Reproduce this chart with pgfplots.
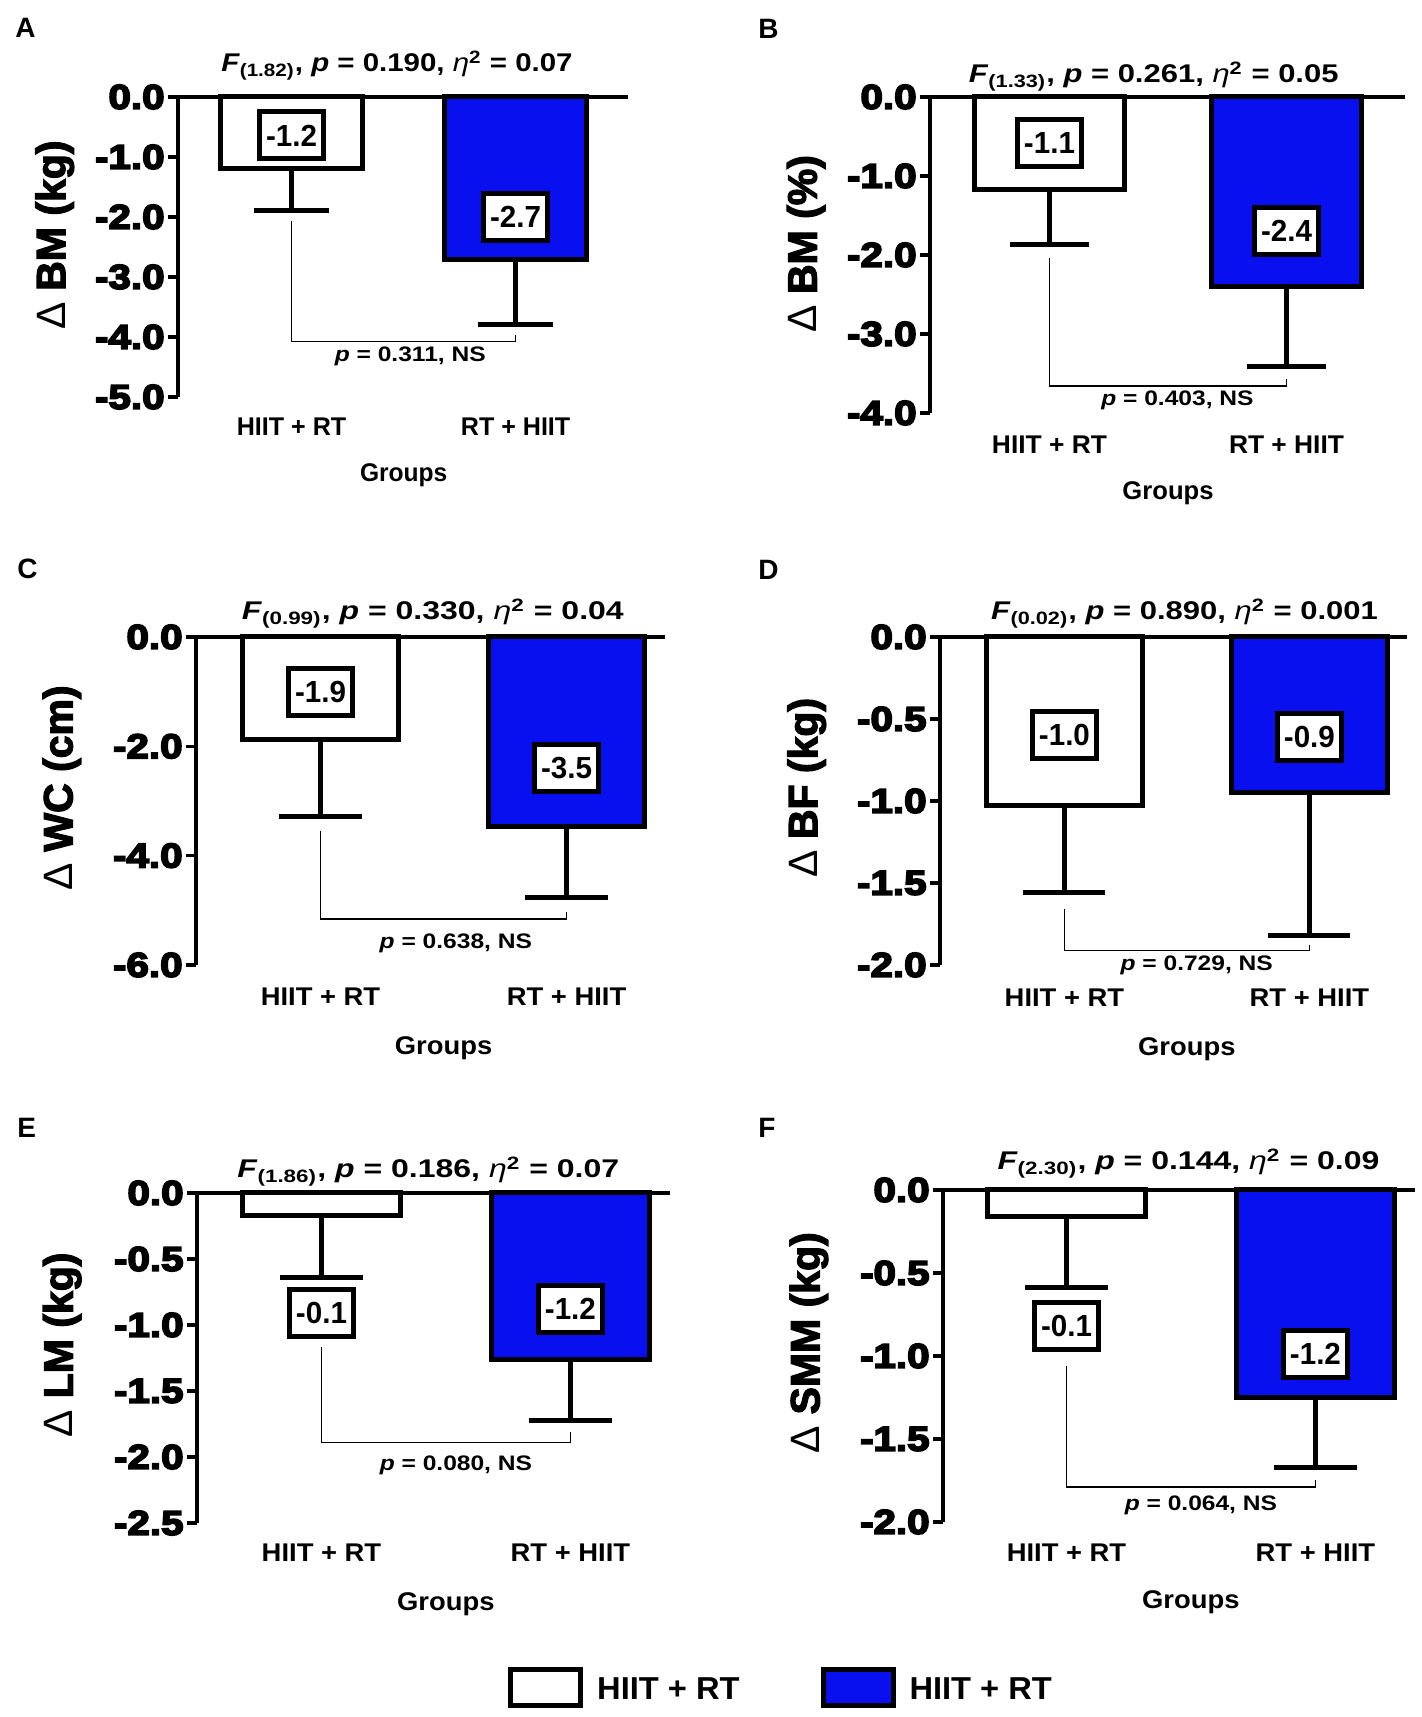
\documentclass[border=0pt]{standalone}
\usepackage{fontspec}
\setmainfont{Liberation Sans}
\newfontfamily\tickfont{Liberation Sans}[FakeStretch=1.17, BoldFeatures={FakeBold=5}]
\newfontfamily\ylabfont{Liberation Sans}[BoldFeatures={FakeBold=3}]
\usepackage{graphicx}
\usepackage{pgfplots}
\pgfplotsset{compat=1.18}
\definecolor{barblue}{RGB}{8,16,240}
\newcommand\hs[2]{\scalebox{#1}[1]{#2}}
\newcommand\fTick{\tickfont\bfseries\fontsize{17.25}{17.25}\selectfont}
\newcommand\fYlab{\ylabfont\bfseries\fontsize{20.5}{20.5}\selectfont}
\newcommand\fTitle{\bfseries\fontsize{12.8}{12.8}\selectfont}
\newcommand\fP{\bfseries\fontsize{10.5}{10.5}\selectfont}
\newcommand\fVal{\bfseries\fontsize{15.25}{15.25}\selectfont}
\newcommand\fX{\bfseries\fontsize{12.8}{12.8}\selectfont}
\newcommand\fLeg{\bfseries\fontsize{15.85}{15.85}\selectfont}
\newcommand\fPanel{\bfseries\fontsize{14}{14}\selectfont}
\newcommand\etaI{{\mdseries\itshape η}}
\newcommand\Dl{{\fontspec{Liberation Sans}\mdseries Δ}}
\tikzset{
  valbox/.style={draw=black, line width=2.5pt, fill=white, minimum width=32pt, minimum height=23.5pt, inner sep=0pt, font=\fVal},
  brk/.style={line width=0.65pt, black},
  ptxt/.style={font=\fP, anchor=center},
}
\pgfplotsset{
  panel/.style={
    scale only axis, clip=false,
    axis y line=left, axis x line=bottom,
    x axis line style={draw=none},
    y axis line style={line width=2pt,-},
    xtick={0,1}, major x tick style={draw=none},
    major y tick style={line width=1.75pt,black},
    tick align=outside, major tick length=5pt,
    yticklabel style={font=\fTick, inner sep=1.5pt},
    xticklabel style={font=\fX, anchor=center},
    ymax=0, enlargelimits=false,
    ylabel style={font=\fYlab, anchor=center},
    xlabel style={font=\fX, anchor=center},
    title style={font=\fTitle, anchor=base},
  },
  wbar/.style={ybar, bar width=0.634, bar shift=0pt, draw=black, fill=white, line width=2.5pt,
    error bars/y dir=minus, error bars/y explicit,
    error bars/error bar style={line width=2.5pt, draw=black},
    error bars/error mark options={rotate=90, mark size=#1, line width=2.5pt, draw=black}},
  bbar/.style={ybar, bar width=0.634, bar shift=0pt, draw=black, fill=barblue, line width=2.5pt,
    error bars/y dir=minus, error bars/y explicit,
    error bars/error bar style={line width=2.5pt, draw=black},
    error bars/error mark options={rotate=90, mark size=#1, line width=2.5pt, draw=black}},
}
\begin{document}
\begin{tikzpicture}
\useasboundingbox (0,0) rectangle (710.5pt,858.5pt);
% panel letters
\node[anchor=base west, inner sep=0pt, font=\fPanel] at (7.5pt,839.5pt) {A};
\node[anchor=base west, inner sep=0pt, font=\fPanel] at (379pt,839pt) {B};
\node[anchor=base west, inner sep=0pt, font=\fPanel] at (8.5pt,569pt) {C};
\node[anchor=base west, inner sep=0pt, font=\fPanel] at (379pt,568.5pt) {D};
\node[anchor=base west, inner sep=0pt, font=\fPanel] at (8.5pt,289.5pt) {E};
\node[anchor=base west, inner sep=0pt, font=\fPanel] at (379pt,289.5pt) {F};

% ---------------- A ----------------
\begin{axis}[panel, at={(89pt,660pt)}, anchor=south west,
  width=224.8pt, height=150pt,
  xmin=-0.507, xmax=1.5, ymin=-5,
  ytick={-5,-4,-3,-2,-1,0}, yticklabels={-5.0,-4.0,-3.0,-2.0,-1.0,0.0},
  xticklabels={\hs{0.98}{HIIT + RT},\hs{0.98}{RT + HIIT}},
  xticklabel style={yshift=-10pt},
  title={\hs{1.15}{\textit{F}\textsubscript{(1.82)}, \textit{p} = 0.190, \etaI\textsuperscript{2} = 0.07}},
  title style={at={(axis description cs:0.487,1)}, yshift=6.5pt},
  ylabel={\Dl{} BM (kg)},
  ylabel style={at={(axis description cs:-0.274,0.54)}},
  xlabel={\hs{0.96}{Groups}},
  xlabel style={at={(axis description cs:0.502,0)}, yshift=-39pt},
]
\addplot[wbar=18.8pt] coordinates {(0,-1.19) +- (0,0.71)};
\addplot[bbar=18.8pt] coordinates {(1,-2.71) +- (0,1.08)};
\draw[line width=1.75pt] (rel axis cs:0,1) -- (rel axis cs:1,1);
\draw[brk] (axis cs:0,-2.06) -- (axis cs:0,-4.08) -- (axis cs:1,-4.08) -- (axis cs:1,-3.97);
\node[ptxt] at (axis cs:0.53,-4.32) {\hs{1.17}{\textit{p} = 0.311, NS}};
\node[valbox] at (axis cs:0,-0.64) {\hs{0.97}{-1.2}};
\node[valbox] at (axis cs:1,-2.0) {\hs{0.97}{-2.7}};
\end{axis}

% ---------------- B ----------------
\begin{axis}[panel, at={(465pt,652pt)}, anchor=south west,
  width=237.5pt, height=158pt,
  xmin=-0.504, xmax=1.5, ymin=-4,
  ytick={-4,-3,-2,-1,0}, yticklabels={-4.0,-3.0,-2.0,-1.0,0.0},
  xticklabels={\hs{1.03}{HIIT + RT},\hs{1.03}{RT + HIIT}},
  xticklabel style={yshift=-11pt},
  title={\hs{1.21}{\textit{F}\textsubscript{(1.33)}, \textit{p} = 0.261, \etaI\textsuperscript{2} = 0.05}},
  title style={at={(axis description cs:0.471,1)}, yshift=1pt},
  ylabel={\Dl{} BM (\%)},
  ylabel style={at={(axis description cs:-0.261,0.535)}},
  xlabel={\hs{1.0}{Groups}},
  xlabel style={at={(axis description cs:0.501,0)}, yshift=-40pt},
]
\addplot[wbar=19.8pt] coordinates {(0,-1.17) +- (0,0.70)};
\addplot[bbar=19.8pt] coordinates {(1,-2.40) +- (0,1.01)};
\draw[line width=1.75pt] (rel axis cs:0,1) -- (rel axis cs:1,1);
\draw[brk] (axis cs:0,-2.04) -- (axis cs:0,-3.66) -- (axis cs:1,-3.66) -- (axis cs:1,-3.57);
\node[ptxt] at (axis cs:0.54,-3.84) {\hs{1.17}{\textit{p} = 0.403, NS}};
\node[valbox] at (axis cs:0,-0.58) {\hs{0.97}{-1.1}};
\node[valbox] at (axis cs:1,-1.70) {\hs{0.97}{-2.4}};
\end{axis}

% ---------------- C ----------------
\begin{axis}[panel, at={(98pt,376pt)}, anchor=south west,
  width=234.5pt, height=164pt,
  xmin=-0.506, xmax=1.4, ymin=-6,
  ytick={-6,-4,-2,0}, yticklabels={-6.0,-4.0,-2.0,0.0},
  xticklabels={\hs{1.07}{HIIT + RT},\hs{1.07}{RT + HIIT}},
  xticklabel style={yshift=-11pt},
  title={\hs{1.25}{\textit{F}\textsubscript{(0.99)}, \textit{p} = 0.330, \etaI\textsuperscript{2} = 0.04}},
  title style={at={(axis description cs:0.505,1)}, yshift=2.5pt},
  ylabel={\Dl{} WC (cm)},
  ylabel style={at={(axis description cs:-0.286,0.54)}},
  xlabel={\hs{1.07}{Groups}},
  xlabel style={at={(axis description cs:0.528,0)}, yshift=-41.5pt},
]
\addplot[wbar=20.6pt] coordinates {(0,-1.88) +- (0,1.41)};
\addplot[bbar=20.6pt] coordinates {(1,-3.47) +- (0,1.30)};
\draw[line width=1.75pt] (rel axis cs:0,1) -- (rel axis cs:1,1);
\draw[brk] (axis cs:0,-3.55) -- (axis cs:0,-5.16) -- (axis cs:1,-5.16) -- (axis cs:1,-5.03);
\node[ptxt] at (axis cs:0.55,-5.6) {\hs{1.17}{\textit{p} = 0.638, NS}};
\node[valbox] at (axis cs:0,-1.0) {\hs{0.97}{-1.9}};
\node[valbox] at (axis cs:1,-2.4) {\hs{0.97}{-3.5}};
\end{axis}

% ---------------- D ----------------
\begin{axis}[panel, at={(470pt,376pt)}, anchor=south west,
  width=233.7pt, height=164pt,
  xmin=-0.508, xmax=1.4, ymin=-2,
  ytick={-2,-1.5,-1,-0.5,0}, yticklabels={-2.0,-1.5,-1.0,-0.5,0.0},
  xticklabels={\hs{1.07}{HIIT + RT},\hs{1.07}{RT + HIIT}},
  xticklabel style={yshift=-11.5pt},
  title={\hs{1.21}{\textit{F}\textsubscript{(0.02)}, \textit{p} = 0.890, \etaI\textsuperscript{2} = 0.001}},
  title style={at={(axis description cs:0.523,1)}, yshift=2.5pt},
  ylabel={\Dl{} BF (kg)},
  ylabel style={at={(axis description cs:-0.285,0.54)}},
  xlabel={\hs{1.07}{Groups}},
  xlabel style={at={(axis description cs:0.528,0)}, yshift=-42pt},
]
\addplot[wbar=20.5pt] coordinates {(0,-1.03) +- (0,0.53)};
\addplot[bbar=20.5pt] coordinates {(1,-0.95) +- (0,0.87)};
\draw[line width=1.75pt] (rel axis cs:0,1) -- (rel axis cs:1,1);
\draw[brk] (axis cs:0,-1.66) -- (axis cs:0,-1.91) -- (axis cs:1,-1.91) -- (axis cs:1,-1.88);
\node[ptxt] at (axis cs:0.54,-2.0) {\hs{1.17}{\textit{p} = 0.729, NS}};
\node[valbox] at (axis cs:0,-0.60) {\hs{0.97}{-1.0}};
\node[valbox] at (axis cs:1,-0.61) {\hs{0.97}{-0.9}};
\end{axis}

% ---------------- E ----------------
\begin{axis}[panel, at={(98.5pt,97pt)}, anchor=south west,
  width=236.5pt, height=165pt,
  xmin=-0.50, xmax=1.4, ymin=-2.5,
  ytick={-2.5,-2,-1.5,-1,-0.5,0}, yticklabels={-2.5,-2.0,-1.5,-1.0,-0.5,0.0},
  xticklabels={\hs{1.07}{HIIT + RT},\hs{1.07}{RT + HIIT}},
  xticklabel style={yshift=-10pt},
  title={\hs{1.25}{\textit{F}\textsubscript{(1.86)}, \textit{p} = 0.186, \etaI\textsuperscript{2} = 0.07}},
  title style={at={(axis description cs:0.489,1)}, yshift=1.5pt},
  ylabel={\Dl{} LM (kg)},
  ylabel style={at={(axis description cs:-0.285,0.54)}},
  xlabel={\hs{1.07}{Groups}},
  xlabel style={at={(axis description cs:0.526,0)}, yshift=-40.5pt},
  legend style={at={(axis description cs:1.237,-0.499)}, anchor=center, draw=none, fill=none,
    font=\fLeg, inner sep=0pt, legend columns=2,
    /tikz/every even column/.append style={column sep=38.5pt}},
  legend cell align=left,
]
\addplot[forget plot, wbar=20.9pt] coordinates {(0,-0.17) +- (0,0.47)};
\addplot[forget plot, bbar=20.9pt] coordinates {(1,-1.26) +- (0,0.46)};
\addlegendimage{legend image code/.code={\draw[line width=2.5pt,draw=black,fill=white] (0pt,-7.8pt) rectangle (35pt,10.2pt); \path (41pt,0pt);}}
\addlegendentry{\hs{1.03}{HIIT + RT}}
\addlegendimage{legend image code/.code={\draw[line width=2.5pt,draw=black,fill=barblue] (0pt,-7.8pt) rectangle (35pt,10.2pt); \path (41pt,0pt);}}
\addlegendentry{\hs{1.03}{HIIT + RT}}
\draw[line width=1.75pt] (rel axis cs:0,1) -- (rel axis cs:1,1);
\draw[brk] (axis cs:0,-1.17) -- (axis cs:0,-1.89) -- (axis cs:1,-1.89) -- (axis cs:1,-1.81);
\node[ptxt] at (axis cs:0.54,-2.06) {\hs{1.17}{\textit{p} = 0.080, NS}};
\node[valbox] at (axis cs:0,-0.91) {\hs{0.97}{-0.1}};
\node[valbox] at (axis cs:1,-0.88) {\hs{0.97}{-1.2}};
\end{axis}

% ---------------- F ----------------
\begin{axis}[panel, at={(471.5pt,97.5pt)}, anchor=south west,
  width=236pt, height=166pt,
  xmin=-0.496, xmax=1.4, ymin=-2,
  ytick={-2,-1.5,-1,-0.5,0}, yticklabels={-2.0,-1.5,-1.0,-0.5,0.0},
  xticklabels={\hs{1.07}{HIIT + RT},\hs{1.07}{RT + HIIT}},
  xticklabel style={yshift=-10.5pt},
  title={\hs{1.25}{\textit{F}\textsubscript{(2.30)}, \textit{p} = 0.144, \etaI\textsuperscript{2} = 0.09}},
  title style={at={(axis description cs:0.52,1)}, yshift=4pt},
  ylabel={\Dl{} SMM (kg)},
  ylabel style={at={(axis description cs:-0.284,0.54)}},
  xlabel={\hs{1.07}{Groups}},
  xlabel style={at={(axis description cs:0.525,0)}, yshift=-40pt},
]
\addplot[wbar=20.9pt] coordinates {(0,-0.16) +- (0,0.43)};
\addplot[bbar=20.9pt] coordinates {(1,-1.25) +- (0,0.42)};
\draw[line width=1.75pt] (rel axis cs:0,1) -- (rel axis cs:1,1);
\draw[brk] (axis cs:0,-1.06) -- (axis cs:0,-1.79) -- (axis cs:1,-1.79) -- (axis cs:1,-1.75);
\node[ptxt] at (axis cs:0.54,-1.9) {\hs{1.17}{\textit{p} = 0.064, NS}};
\node[valbox] at (axis cs:0,-0.82) {\hs{0.97}{-0.1}};
\node[valbox] at (axis cs:1,-0.99) {\hs{0.97}{-1.2}};
\end{axis}
\end{tikzpicture}
\end{document}
